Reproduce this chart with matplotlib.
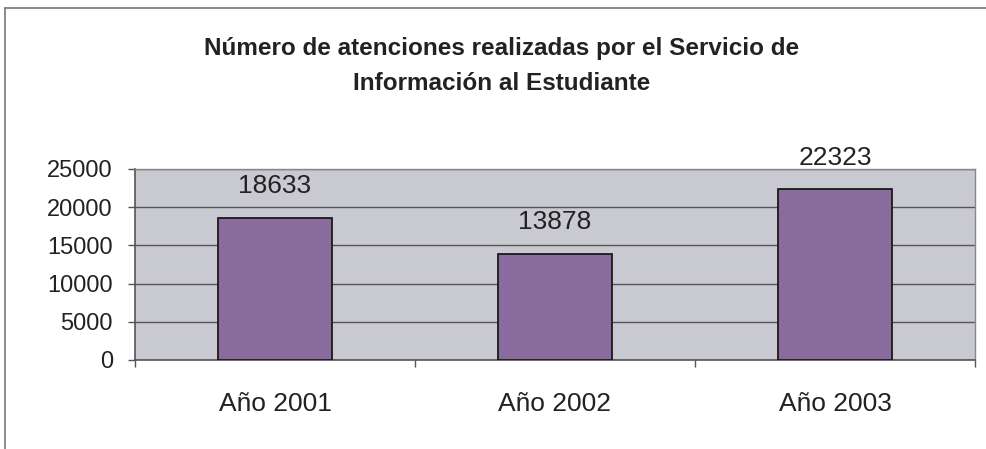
import matplotlib
matplotlib.use("Agg")
import matplotlib.pyplot as plt
from matplotlib.lines import Line2D

categories = ["Año 2001", "Año 2002", "Año 2003"]
values = [18633, 13878, 22323]
yticks = [0, 5000, 10000, 15000, 20000, 25000]
title = "Número de atenciones realizadas por el Servicio de\nInformación al Estudiante"

plt.rcParams['font.family'] = ['Liberation Sans', 'DejaVu Sans']

W, H = 986, 449
fig = plt.figure(figsize=(W / 100, H / 100), dpi=100)
fig.patch.set_facecolor("white")

left, right, top, bottom = 135, 975, 169, 360
ax = fig.add_axes([left / W, 1 - bottom / H, (right - left) / W, (bottom - top) / H])
ax.set_facecolor("#c9c9d1")

x = list(range(len(categories)))
bars = ax.bar(x, values, width=0.41, color="#8a6b9d", edgecolor="#1a1a1a", linewidth=1.3, zorder=3)
ax.set_xlim(-0.5, len(categories) - 0.5)
ax.set_ylim(0, 25000)
ax.set_yticks(yticks)
ax.set_yticklabels([str(t) for t in yticks], fontsize=17, color="#222222")
ax.yaxis.grid(True, color="#555555", linewidth=1.0, zorder=1)
ax.set_axisbelow(True)

ax.set_xticks(x)
ax.set_xticklabels(categories, fontsize=19, color="#222222")
ax.tick_params(axis="x", length=0, pad=23)
ax.tick_params(axis="y", length=5, width=1, color="#555555", pad=11)
# boundary ticks on x axis
ax.set_xticks([-0.5, 0.5, 1.5, 2.5], minor=True)
ax.tick_params(axis="x", which="minor", length=5, width=1, color="#555555")

for s in ["top", "right"]:
    ax.spines[s].set_color("#888888")
    ax.spines[s].set_linewidth(1.0)
for s in ["left", "bottom"]:
    ax.spines[s].set_color("#555555")
    ax.spines[s].set_linewidth(1.2)

for xi, v in zip(x, values):
    ax.annotate(str(v), (xi, v), xytext=(0, 23), textcoords="offset points",
                ha="center", va="center", fontsize=19, color="#222222")

fig.text(502 / W, 1 - 66 / H, title, ha="center", va="center", fontsize=17.5,
         fontweight="bold", linespacing=1.7, color="#222222")

# outer chart border (top and left)
fig.add_artist(Line2D([5 / W, 1], [1 - 8 / H, 1 - 8 / H], transform=fig.transFigure, color="#777777", lw=1.2))
fig.add_artist(Line2D([5 / W, 5 / W], [0, 1 - 8 / H], transform=fig.transFigure, color="#777777", lw=1.2))

fig.savefig("out.png", dpi=100)
